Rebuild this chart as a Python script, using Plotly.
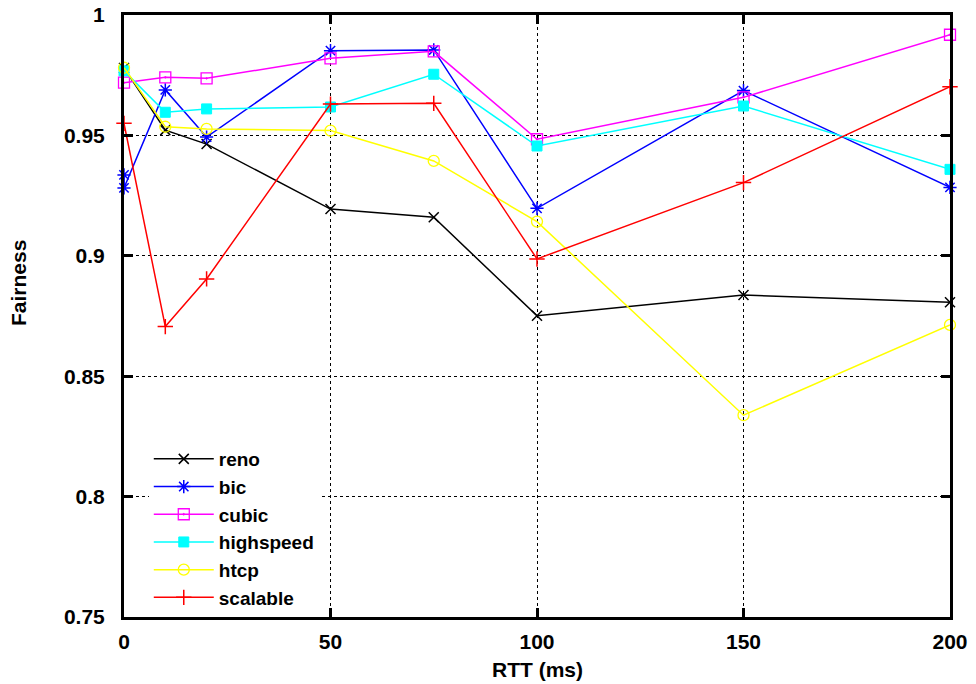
import plotly.graph_objects as go

rtt = [0, 10, 20, 50, 75, 100, 150, 200]
rtt_bic = [0, 0, 10, 20, 50, 75, 100, 150, 200]

reno = [0.978, 0.9522, 0.9464, 0.9194, 0.916, 0.8751, 0.8837, 0.8807]
bic = [0.9336, 0.9282, 0.9689, 0.9493, 0.9852, 0.9855, 0.9197, 0.9686, 0.9284]
cubic = [0.9719, 0.9741, 0.9737, 0.982, 0.9849, 0.9484, 0.9658, 0.9918]
highspeed = [0.9768, 0.9596, 0.961, 0.9618, 0.9754, 0.9456, 0.9622, 0.9359]
htcp = [0.9781, 0.9536, 0.9527, 0.952, 0.9394, 0.9142, 0.8338, 0.8713]
scalable = [0.955, 0.8706, 0.8904, 0.963, 0.9633, 0.8987, 0.9304, 0.9702]

x_ticks = [0, 50, 100, 150, 200]
y_ticks = [0.75, 0.8, 0.85, 0.9, 0.95, 1]
y_tick_labels = ["0.75", "0.8", "0.85", "0.9", "0.95", "1"]

series = [
    ("reno", rtt, reno, "#000000", "x-thin-open", 10, 1.5),
    ("bic", rtt_bic, bic, "#0000ff", "asterisk-open", 11, 1.5),
    ("cubic", rtt, cubic, "#ff00ff", "square-open-dot", 11, 1.3),
    ("highspeed", rtt, highspeed, "#00ffff", "square", 10, 1),
    ("htcp", rtt, htcp, "#ffff00", "circle-open", 11, 1.3),
    ("scalable", rtt, scalable, "#ff0000", "cross-thin-open", 11, 1.5),
]

fig = go.Figure()
for name, xs, ys, color, sym, size, mlw in series:
    fig.add_trace(go.Scatter(
        x=xs, y=ys, name=name, mode="lines+markers",
        line=dict(color=color, width=1.5),
        marker=dict(symbol=sym, size=size, color=color,
                    line=dict(color=color, width=mlw)),
        cliponaxis=False,
    ))

font_family = "Liberation Sans, Arial, sans-serif"
tick_font = dict(family=font_family, size=21, color="black", weight="bold")

fig.update_layout(
    width=976, height=684,
    margin=dict(l=124, r=26, t=15, b=67, autoexpand=False),
    paper_bgcolor="white", plot_bgcolor="white",
    font=dict(family=font_family, size=19, color="black", weight="bold"),
    showlegend=True,
    legend=dict(
        x=0.03, y=0.0, xanchor="left", yanchor="bottom",
        bgcolor="white", borderwidth=0,
        font=dict(family=font_family, size=19, color="black", weight="bold"),
        tracegroupgap=0, itemwidth=60,
    ),
    xaxis=dict(
        range=[0, 200], tickvals=x_ticks, ticktext=[str(v) for v in x_ticks],
        showline=True, linecolor="black", linewidth=3, mirror="allticks",
        ticks="inside", ticklen=9, tickwidth=3, tickcolor="black",
        showgrid=True, gridcolor="black", gridwidth=1, griddash="dot",
        zeroline=False, automargin=False,
        tickfont=tick_font, ticklabelstandoff=4,
    ),
    yaxis=dict(
        range=[0.75, 1], tickvals=y_ticks, ticktext=y_tick_labels,
        showline=True, linecolor="black", linewidth=3, mirror="allticks",
        ticks="inside", ticklen=9, tickwidth=3, tickcolor="black",
        showgrid=True, gridcolor="black", gridwidth=1, griddash="dot",
        zeroline=False, automargin=False,
        tickfont=tick_font, ticklabelstandoff=12,
    ),
    annotations=[
        dict(text="RTT (ms)", xref="paper", yref="paper", x=0.5, y=-0.0875,
             xanchor="center", yanchor="middle", showarrow=False,
             font=tick_font),
        dict(text="Fairness", xref="paper", yref="paper", x=-0.127, y=0.555,
             xanchor="center", yanchor="middle", showarrow=False, textangle=-90,
             font=tick_font),
    ],
)

fig.write_html("out.html", post_script="document.body.style.margin='0';",
               config={"displayModeBar": False})
